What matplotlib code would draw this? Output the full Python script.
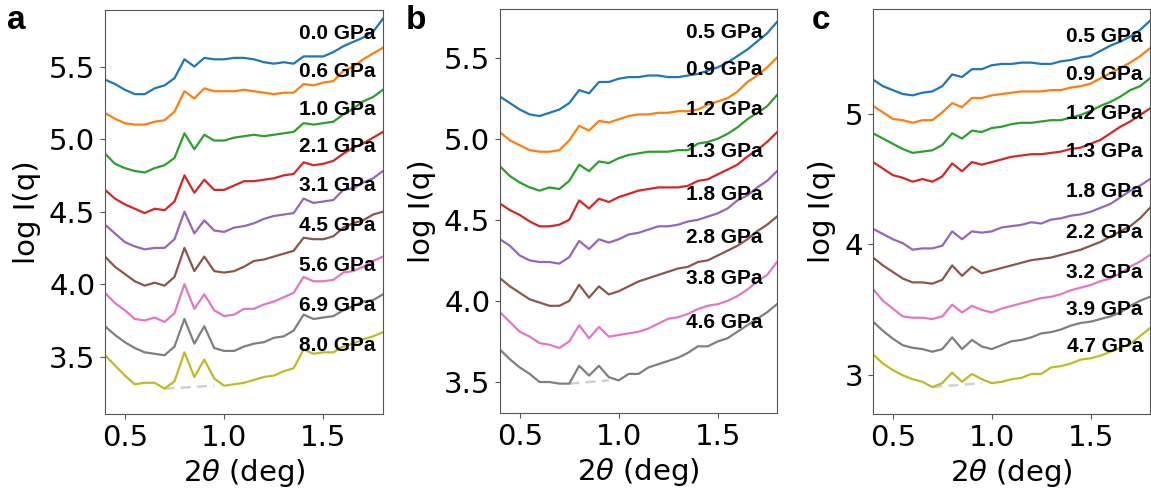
import matplotlib

matplotlib.use("Agg")
import matplotlib.pyplot as plt

# scattering angle grid (deg), shared by every curve
two_theta = [0.40, 0.45, 0.50, 0.55, 0.60, 0.65, 0.70, 0.75, 0.80, 0.85,
             0.90, 0.95, 1.00, 1.05, 1.10, 1.15, 1.20, 1.25, 1.30, 1.35,
             1.40, 1.45, 1.50, 1.55, 1.60, 1.65, 1.70, 1.75, 1.80]

# panel a
labels_a = ["0.0 GPa", "0.6 GPa", "1.0 GPa", "2.1 GPa", "3.1 GPa",
            "4.5 GPa", "5.6 GPa", "6.9 GPa", "8.0 GPa"]
label_y_a = [5.73, 5.466, 5.206, 4.948, 4.677, 4.401, 4.132, 3.856, 3.58]
curves_a = [
    [5.41, 5.38, 5.34, 5.31, 5.31, 5.35, 5.37, 5.42, 5.55, 5.50, 5.56, 5.55, 5.55, 5.56, 5.56,
     5.55, 5.53, 5.52, 5.53, 5.52, 5.57, 5.57, 5.57, 5.60, 5.64, 5.67, 5.70, 5.74, 5.83],
    [5.18, 5.14, 5.11, 5.10, 5.10, 5.12, 5.13, 5.19, 5.33, 5.28, 5.35, 5.33, 5.33, 5.33, 5.34,
     5.33, 5.32, 5.31, 5.32, 5.32, 5.38, 5.37, 5.39, 5.40, 5.47, 5.50, 5.55, 5.59, 5.63],
    [4.90, 4.83, 4.80, 4.78, 4.77, 4.80, 4.82, 4.87, 5.04, 4.93, 5.03, 4.99, 4.99, 5.01, 5.02,
     5.03, 5.02, 5.03, 5.04, 5.05, 5.11, 5.10, 5.11, 5.12, 5.17, 5.21, 5.26, 5.29, 5.34],
    [4.65, 4.59, 4.55, 4.52, 4.49, 4.52, 4.51, 4.57, 4.75, 4.63, 4.72, 4.65, 4.65, 4.68, 4.71,
     4.71, 4.72, 4.73, 4.75, 4.76, 4.84, 4.82, 4.83, 4.85, 4.90, 4.94, 4.97, 5.01, 5.05],
    [4.41, 4.35, 4.29, 4.26, 4.24, 4.25, 4.25, 4.31, 4.50, 4.35, 4.44, 4.37, 4.36, 4.39, 4.40,
     4.42, 4.45, 4.47, 4.48, 4.49, 4.59, 4.56, 4.57, 4.58, 4.65, 4.66, 4.70, 4.73, 4.78],
    [4.19, 4.12, 4.07, 4.02, 3.99, 4.01, 3.99, 4.05, 4.25, 4.09, 4.19, 4.09, 4.08, 4.09, 4.12,
     4.16, 4.17, 4.19, 4.21, 4.23, 4.32, 4.31, 4.31, 4.33, 4.39, 4.42, 4.44, 4.48, 4.50],
    [3.94, 3.87, 3.82, 3.76, 3.75, 3.77, 3.74, 3.80, 4.00, 3.83, 3.93, 3.82, 3.78, 3.79, 3.83,
     3.83, 3.86, 3.88, 3.91, 3.94, 4.05, 4.02, 4.02, 4.03, 4.08, 4.09, 4.12, 4.16, 4.19],
    [3.71, 3.65, 3.60, 3.56, 3.53, 3.52, 3.51, 3.57, 3.76, 3.59, 3.71, 3.56, 3.54, 3.54, 3.57,
     3.59, 3.60, 3.63, 3.64, 3.68, 3.79, 3.76, 3.77, 3.78, 3.82, 3.85, 3.88, 3.89, 3.93],
    [3.51, 3.44, 3.37, 3.31, 3.32, 3.32, 3.28, 3.33, 3.53, 3.36, 3.48, 3.35, 3.30, 3.31, 3.32,
     3.34, 3.36, 3.37, 3.40, 3.42, 3.55, 3.52, 3.53, 3.53, 3.57, 3.59, 3.62, 3.64, 3.67],
]
baseline_a = ([0.70, 0.95], [3.28, 3.30])

# panel b
labels_b = ["0.5 GPa", "0.9 GPa", "1.2 GPa", "1.3 GPa", "1.8 GPa",
            "2.8 GPa", "3.8 GPa", "4.6 GPa"]
label_y_b = [5.654, 5.424, 5.181, 4.92, 4.656, 4.389, 4.136, 3.864]
curves_b = [
    [5.26, 5.22, 5.18, 5.15, 5.14, 5.16, 5.18, 5.22, 5.30, 5.28, 5.35, 5.35, 5.37, 5.38, 5.38,
     5.39, 5.39, 5.38, 5.38, 5.39, 5.40, 5.42, 5.44, 5.47, 5.51, 5.55, 5.60, 5.65, 5.72],
    [5.04, 4.99, 4.96, 4.93, 4.92, 4.92, 4.93, 4.99, 5.08, 5.05, 5.11, 5.10, 5.12, 5.14, 5.15,
     5.15, 5.16, 5.16, 5.17, 5.17, 5.18, 5.21, 5.23, 5.25, 5.29, 5.35, 5.39, 5.44, 5.50],
    [4.83, 4.77, 4.73, 4.70, 4.68, 4.70, 4.69, 4.74, 4.84, 4.80, 4.86, 4.85, 4.88, 4.90, 4.91,
     4.92, 4.92, 4.92, 4.93, 4.93, 4.97, 4.98, 5.00, 5.03, 5.07, 5.12, 5.16, 5.20, 5.27],
    [4.60, 4.56, 4.53, 4.49, 4.46, 4.46, 4.47, 4.50, 4.62, 4.57, 4.63, 4.61, 4.64, 4.66, 4.68,
     4.69, 4.70, 4.70, 4.70, 4.71, 4.74, 4.75, 4.78, 4.81, 4.84, 4.89, 4.93, 4.98, 5.04],
    [4.38, 4.34, 4.28, 4.25, 4.24, 4.24, 4.23, 4.27, 4.37, 4.32, 4.38, 4.36, 4.38, 4.41, 4.42,
     4.44, 4.46, 4.46, 4.47, 4.49, 4.50, 4.52, 4.54, 4.57, 4.62, 4.65, 4.70, 4.74, 4.80],
    [4.14, 4.09, 4.05, 4.01, 3.99, 3.97, 3.97, 4.00, 4.10, 4.02, 4.09, 4.04, 4.06, 4.09, 4.12,
     4.14, 4.16, 4.18, 4.20, 4.21, 4.24, 4.25, 4.28, 4.31, 4.34, 4.38, 4.43, 4.47, 4.52],
    [3.93, 3.87, 3.81, 3.78, 3.74, 3.73, 3.71, 3.75, 3.85, 3.77, 3.84, 3.78, 3.79, 3.80, 3.81,
     3.83, 3.86, 3.89, 3.90, 3.92, 3.95, 3.97, 3.98, 4.00, 4.03, 4.07, 4.12, 4.16, 4.24],
    [3.70, 3.64, 3.59, 3.55, 3.50, 3.50, 3.49, 3.49, 3.60, 3.54, 3.60, 3.53, 3.51, 3.55, 3.55,
     3.59, 3.61, 3.63, 3.65, 3.68, 3.72, 3.72, 3.75, 3.77, 3.81, 3.85, 3.89, 3.93, 3.98],
]
baseline_b = ([0.75, 0.95], [3.49, 3.51])

# panel c
labels_c = ["0.5 GPa", "0.9 GPa", "1.2 GPa", "1.3 GPa", "1.8 GPa",
            "2.2 GPa", "3.2 GPa", "3.9 GPa", "4.7 GPa"]
label_y_c = [5.586, 5.298, 5.0, 4.712, 4.406, 4.088, 3.787, 3.502, 3.222]
curves_c = [
    [5.26, 5.21, 5.18, 5.15, 5.14, 5.16, 5.17, 5.21, 5.30, 5.28, 5.34, 5.34, 5.37, 5.38, 5.38,
     5.39, 5.39, 5.38, 5.38, 5.40, 5.41, 5.43, 5.44, 5.48, 5.52, 5.55, 5.59, 5.64, 5.71],
    [5.06, 5.01, 4.96, 4.95, 4.93, 4.95, 4.95, 5.01, 5.08, 5.05, 5.12, 5.12, 5.14, 5.15, 5.16,
     5.17, 5.17, 5.17, 5.18, 5.18, 5.20, 5.21, 5.23, 5.27, 5.31, 5.35, 5.39, 5.44, 5.50],
    [4.85, 4.81, 4.77, 4.73, 4.70, 4.71, 4.72, 4.76, 4.85, 4.81, 4.87, 4.86, 4.89, 4.90, 4.92,
     4.93, 4.93, 4.94, 4.95, 4.95, 4.97, 4.99, 5.02, 5.06, 5.09, 5.13, 5.18, 5.21, 5.27],
    [4.63, 4.58, 4.53, 4.51, 4.48, 4.50, 4.48, 4.52, 4.62, 4.56, 4.63, 4.61, 4.63, 4.65, 4.67,
     4.68, 4.69, 4.69, 4.70, 4.71, 4.73, 4.74, 4.77, 4.80, 4.85, 4.90, 4.94, 4.99, 5.04],
    [4.12, 4.08, 4.04, 4.01, 3.96, 3.97, 3.97, 3.99, 4.10, 4.04, 4.10, 4.09, 4.10, 4.13, 4.14,
     4.15, 4.17, 4.16, 4.19, 4.20, 4.22, 4.23, 4.25, 4.28, 4.31, 4.36, 4.41, 4.45, 4.50],
    [3.90, 3.84, 3.79, 3.74, 3.71, 3.71, 3.70, 3.73, 3.84, 3.76, 3.83, 3.78, 3.80, 3.82, 3.84,
     3.86, 3.88, 3.89, 3.90, 3.92, 3.94, 3.96, 3.99, 4.02, 4.06, 4.10, 4.14, 4.20, 4.28],
    [3.66, 3.57, 3.51, 3.45, 3.44, 3.44, 3.43, 3.45, 3.54, 3.48, 3.53, 3.50, 3.48, 3.51, 3.53,
     3.55, 3.57, 3.59, 3.60, 3.62, 3.65, 3.67, 3.69, 3.72, 3.74, 3.78, 3.83, 3.87, 3.92],
    [3.41, 3.34, 3.28, 3.23, 3.21, 3.20, 3.18, 3.20, 3.29, 3.20, 3.27, 3.22, 3.20, 3.23, 3.26,
     3.27, 3.29, 3.32, 3.33, 3.35, 3.38, 3.40, 3.41, 3.43, 3.45, 3.48, 3.53, 3.57, 3.60],
    [3.16, 3.09, 3.04, 3.00, 2.97, 2.95, 2.91, 2.94, 3.02, 2.95, 3.01, 2.97, 2.94, 2.95, 2.97,
     2.98, 3.01, 3.01, 3.06, 3.07, 3.09, 3.12, 3.13, 3.15, 3.18, 3.21, 3.24, 3.30, 3.36],
]
baseline_c = ([0.70, 0.95], [2.91, 2.94])

FIG_W, FIG_H = 1151, 493
TICK_SIZE = 21
LABEL_FONT = ["Liberation Sans", "DejaVu Sans"]


def draw_panel(fig, box, curves, labels, label_y, label_x, baseline, ylim, yticks, letter, letter_x):
    left, bottom, right, top = box
    ax = fig.add_axes([left / FIG_W, 1 - bottom / FIG_H,
                       (right - left) / FIG_W, (bottom - top) / FIG_H])

    for i, values in enumerate(curves):
        ax.plot(two_theta, values, color=f"C{i}", lw=1.6, zorder=2)
    ax.plot(baseline[0], baseline[1], color="#d0d0d0", lw=1.8, ls=(0, (4, 2.5)), zorder=1)

    for text, y in zip(labels, label_y):
        ax.text(label_x, y, text, ha="right", va="center", fontsize=15,
                fontweight="bold", family=LABEL_FONT, zorder=3)

    ax.set_xlim(0.4, 1.8)
    ax.set_ylim(*ylim)
    ax.set_xticks([0.5, 1.0, 1.5])
    ax.set_yticks(yticks)
    ax.tick_params(labelsize=TICK_SIZE, color="#555555")
    for spine in ax.spines.values():
        spine.set_color("#555555")
    ax.set_xlabel(r"2$\theta$ (deg)", fontsize=TICK_SIZE)
    ax.set_ylabel("log I(q)", fontsize=TICK_SIZE, labelpad=6)

    fig.text(letter_x / FIG_W, 1 - 29 / FIG_H, letter, fontsize=24, fontweight="bold",
             family=LABEL_FONT, va="baseline", ha="left")
    return ax


def main() -> None:
    fig = plt.figure(figsize=(FIG_W / 100, FIG_H / 100), dpi=100)

    draw_panel(fig, (105, 414, 383, 10), curves_a, labels_a, label_y_a, 1.762, baseline_a,
               (3.105, 5.89), [3.5, 4.0, 4.5, 5.0, 5.5], "a", 7)
    draw_panel(fig, (500, 413, 777, 9), curves_b, labels_b, label_y_b, 1.728, baseline_b,
               (3.309, 5.80), [3.5, 4.0, 4.5, 5.0, 5.5], "b", 406)
    ax_c = draw_panel(fig, (873, 414, 1150, 9), curves_c, labels_c, label_y_c, 1.764, baseline_c,
                      (2.704, 5.80), [3, 4, 5], "c", 812)
    ax_c.set_yticklabels(["3", "4", "5"])

    fig.savefig("out.png", dpi=100)
    plt.close(fig)


if __name__ == "__main__":
    main()
